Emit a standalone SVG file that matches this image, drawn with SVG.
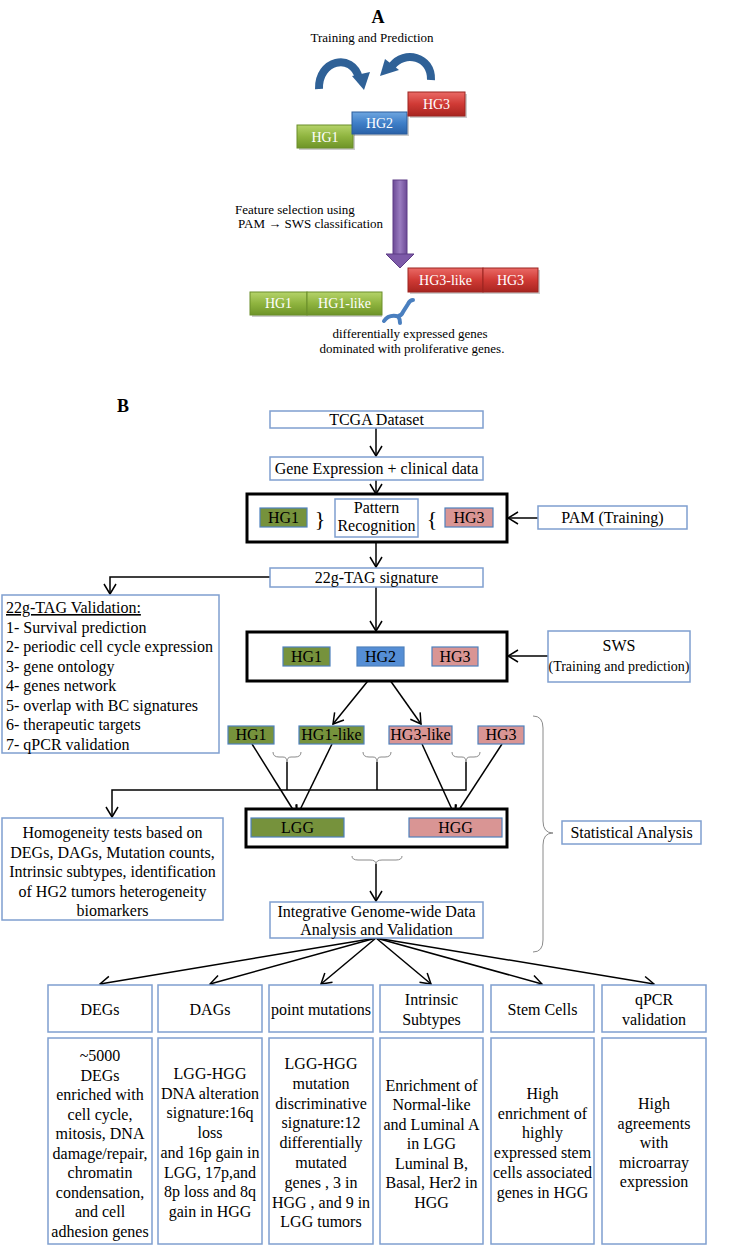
<svg xmlns="http://www.w3.org/2000/svg" width="735" height="1246" viewBox="0 0 735 1246">
<defs>
<style>
.t{font-family:"Liberation Serif","Times New Roman",serif;font-size:16px;fill:#000}
.ta{font-family:"Liberation Serif","Times New Roman",serif;font-size:13px;fill:#000}
.tw{font-family:"Liberation Serif","Times New Roman",serif;font-size:14px;fill:#fff;text-anchor:middle}
.c{text-anchor:middle}
.bx{fill:#fff;stroke:#7f9fcf;stroke-width:1.5}
.thick{fill:#fff;stroke:#000;stroke-width:3}
.g{fill:#76923c;stroke:#4f81bd;stroke-width:1.2}
.p{fill:#d99594;stroke:#4f81bd;stroke-width:1.2}
.b{fill:#558ed5;stroke:#4f81bd;stroke-width:1.2}
.ln{fill:none;stroke:#000;stroke-width:1.5}
.br{fill:none;stroke:#8a8a8a;stroke-width:1}
</style>
<marker id="ah" markerUnits="userSpaceOnUse" markerWidth="14" markerHeight="14" viewBox="-12 -7 14 14" refX="0" refY="0" orient="auto">
<path d="M-10,-6 L0,0 L-10,6" fill="none" stroke="#000" stroke-width="1.5"/>
</marker>
<linearGradient id="gg" x1="0" y1="0" x2="0" y2="1"><stop offset="0" stop-color="#b5d36a"/><stop offset="0.5" stop-color="#8fb43f"/><stop offset="1" stop-color="#6e9428"/></linearGradient>
<linearGradient id="gb" x1="0" y1="0" x2="0" y2="1"><stop offset="0" stop-color="#6fa6e0"/><stop offset="0.5" stop-color="#3f7fc8"/><stop offset="1" stop-color="#2a62a8"/></linearGradient>
<linearGradient id="gr" x1="0" y1="0" x2="0" y2="1"><stop offset="0" stop-color="#ea6a66"/><stop offset="0.5" stop-color="#d03a35"/><stop offset="1" stop-color="#a82520"/></linearGradient>
<linearGradient id="gp" x1="0" y1="0" x2="1" y2="0"><stop offset="0" stop-color="#6c4a96"/><stop offset="0.5" stop-color="#9a7cc0"/><stop offset="1" stop-color="#6c4a96"/></linearGradient>
</defs>

<!-- Part A -->
<g id="partA">
<text x="378" y="23" style="font-family:'Liberation Serif',serif;font-size:18px;font-weight:bold" text-anchor="middle">A</text>
<text class="ta c" x="372" y="42">Training and Prediction</text>
<g id="curvedArrows" fill="none" stroke="#2f6197" stroke-width="8">
<path d="M319,89 C318,60 352,52 359,78"/>
<path d="M431,80 C432,56 404,50 392,66"/>
</g>
<polygon points="352,76 370,72 364,90" fill="#2f6197"/>
<polygon points="385,59 399,70 380,76" fill="#2f6197"/>
<g id="A_HG1">
<rect x="299" y="127" width="56" height="23" fill="#000" opacity="0.2"/>
<rect x="297" y="125" width="56" height="23" fill="url(#gg)" stroke="#6b8e2a"/>
<text class="tw" x="325" y="142">HG1</text></g>
<g id="A_HG2">
<rect x="354" y="114" width="55" height="22" fill="#000" opacity="0.2"/>
<rect x="352" y="112" width="55" height="22" fill="url(#gb)" stroke="#2a5d9c"/>
<text class="tw" x="379.5" y="128">HG2</text></g>
<g id="A_HG3">
<rect x="410" y="94" width="57" height="24" fill="#000" opacity="0.2"/>
<rect x="408" y="92" width="57" height="24" fill="url(#gr)" stroke="#9c2420"/>
<text class="tw" x="436.5" y="109">HG3</text></g>
<g id="purpleArrow">
<rect x="393" y="180" width="14" height="75" fill="url(#gp)" stroke="#5e3d86" stroke-width="1"/>
<polygon points="386,254 414,254 400,268" fill="#7d5aa8" stroke="#5e3d86" stroke-width="1"/>
</g>
<text class="ta" x="235" y="214">Feature selection using</text>
<text class="ta" x="238" y="228">PAM → SWS classification</text>
<g id="A_HG1b">
<rect x="252" y="294" width="130" height="23" fill="#000" opacity="0.2"/>
<rect x="250" y="292" width="57" height="23" fill="url(#gg)" stroke="#6b8e2a"/>
<rect x="307" y="292" width="75" height="23" fill="url(#gg)" stroke="#6b8e2a"/>
<text class="tw" x="278.5" y="308">HG1</text>
<text class="tw" x="344.5" y="308">HG1-like</text></g>
<g id="A_HG3b">
<rect x="410" y="270" width="130" height="24" fill="#000" opacity="0.2"/>
<rect x="408" y="268" width="75" height="24" fill="url(#gr)" stroke="#9c2420"/>
<rect x="483" y="268" width="55" height="24" fill="url(#gr)" stroke="#9c2420"/>
<text class="tw" x="445.5" y="285">HG3-like</text>
<text class="tw" x="510.5" y="285">HG3</text></g>
<path d="M384,321 Q388,315 396,316 Q401,317 403,312 L408,304 Q410,300 413,300 M398,316 Q400,319 400,323" fill="none" stroke="#4a7fbf" stroke-width="4" stroke-linecap="round"/>
<text class="ta c" x="410" y="338">differentially expressed genes</text>
<text class="ta c" x="412" y="353">dominated with proliferative genes.</text>
</g>

<!-- Part B -->
<text x="117" y="412" style="font-family:'Liberation Serif',serif;font-size:18px;font-weight:bold">B</text>

<g id="connectors">
<line class="ln" x1="376" y1="428" x2="376" y2="456" marker-end="url(#ah)"/>
<line class="ln" x1="376" y1="480" x2="376" y2="494" marker-end="url(#ah)"/>
<line class="ln" x1="376" y1="542" x2="376" y2="567" marker-end="url(#ah)"/>
<line class="ln" x1="538" y1="518" x2="508" y2="518" marker-end="url(#ah)"/>
<polyline class="ln" points="270,577 110,577 110,594" marker-end="url(#ah)"/>
<line class="ln" x1="376" y1="587" x2="376" y2="631" marker-end="url(#ah)"/>
<line class="ln" x1="548" y1="656" x2="508" y2="656" marker-end="url(#ah)"/>
<line class="ln" x1="380" y1="666" x2="333" y2="724" marker-end="url(#ah)"/>
<line class="ln" x1="380" y1="666" x2="421" y2="724" marker-end="url(#ah)"/>
<line class="ln" x1="252" y1="744" x2="297" y2="816" marker-end="url(#ah)"/>
<line class="ln" x1="332" y1="744" x2="297" y2="816" marker-end="url(#ah)"/>
<line class="ln" x1="422" y1="744" x2="455" y2="816" marker-end="url(#ah)"/>
<line class="ln" x1="502" y1="744" x2="455" y2="816" marker-end="url(#ah)"/>
<path class="br" d="M273,752 Q273,757 279,757 L283,757 Q287,757 287,762 Q287,757 291,757 L295,757 Q301,757 301,752"/>
<path class="br" d="M363,752 Q363,757 369,757 L373,757 Q377,757 377,762 Q377,757 381,757 L385,757 Q391,757 391,752"/>
<path class="br" d="M452,752 Q452,757 458,757 L462,757 Q466,757 466,762 Q466,757 470,757 L474,757 Q480,757 480,752"/>
<line class="ln" x1="287" y1="762" x2="287" y2="790"/>
<line class="ln" x1="377" y1="762" x2="377" y2="790"/>
<polyline class="ln" points="466,762 466,790 112,790 112,817" marker-end="url(#ah)"/>
<path class="br" d="M352,856 Q352,860 358,860 L370,860 Q376,860 376,864 Q376,860 382,860 L396,860 Q402,860 402,856"/>
<line class="ln" x1="376" y1="864" x2="376" y2="901" marker-end="url(#ah)"/>
<path class="br" d="M533,716 Q543,716 543,728 L543,821 Q543,833 553,833 Q543,833 543,845 L543,940 Q543,952 533,952"/>
<line class="ln" x1="376" y1="938" x2="100" y2="984" marker-end="url(#ah)"/>
<line class="ln" x1="376" y1="938" x2="210" y2="984" marker-end="url(#ah)"/>
<line class="ln" x1="376" y1="938" x2="321" y2="984" marker-end="url(#ah)"/>
<line class="ln" x1="376" y1="938" x2="431" y2="984" marker-end="url(#ah)"/>
<line class="ln" x1="376" y1="938" x2="542" y2="984" marker-end="url(#ah)"/>
<line class="ln" x1="376" y1="938" x2="654" y2="984" marker-end="url(#ah)"/>
</g>

<g id="tcga"><rect class="bx" x="270" y="411" width="213" height="17"/><text class="t c" x="376.5" y="425">TCGA Dataset</text></g>
<g id="geneExpr"><rect class="bx" x="270" y="457" width="213" height="23"/><text class="t c" x="376.5" y="474">Gene Expression + clinical data</text></g>

<g id="box1">
<rect class="thick" x="247" y="494" width="260" height="48"/>
<rect class="g" x="260" y="508" width="47" height="19"/><text class="t c" x="283.5" y="523">HG1</text>
<text class="c" x="320" y="526" style="font-family:'Liberation Serif',serif;font-size:22px">}</text>
<rect class="bx" x="335" y="499" width="83" height="38"/>
<text class="t c" x="376.5" y="513">Pattern</text><text class="t c" x="376.5" y="531">Recognition</text>
<text class="c" x="432" y="526" style="font-family:'Liberation Serif',serif;font-size:22px">{</text>
<rect class="p" x="445" y="508" width="48" height="19"/><text class="t c" x="469" y="523">HG3</text>
</g>
<g id="pam"><rect class="bx" x="538" y="506" width="149" height="23"/><text class="t c" x="612.5" y="523">PAM (Training)</text></g>
<g id="sig"><rect class="bx" x="270" y="568" width="213" height="19"/><text class="t c" x="376.5" y="583">22g-TAG signature</text></g>

<g id="validation">
<rect class="bx" x="2" y="595" width="217" height="158"/>
<text class="t" x="6" y="613" text-decoration="underline">22g-TAG Validation:</text>
<text class="t" x="6" y="632.5">1- Survival prediction</text>
<text class="t" x="6" y="652">2- periodic cell cycle expression</text>
<text class="t" x="6" y="671.5">3- gene ontology</text>
<text class="t" x="6" y="691">4- genes network</text>
<text class="t" x="6" y="710.5">5- overlap with BC signatures</text>
<text class="t" x="6" y="730">6- therapeutic targets</text>
<text class="t" x="6" y="749.5">7- qPCR validation</text>
</g>

<g id="box2">
<rect class="thick" x="247" y="632" width="260" height="49"/>
<rect class="g" x="283" y="647" width="47" height="19"/><text class="t c" x="306.5" y="662">HG1</text>
<rect class="b" x="357" y="647" width="47" height="19"/><text class="t c" x="380.5" y="662">HG2</text>
<rect class="p" x="432" y="647" width="46" height="19"/><text class="t c" x="455" y="662">HG3</text>
</g>
<g id="sws"><rect class="bx" x="548" y="631" width="142" height="51"/><text class="t c" x="619" y="651">SWS</text><text class="t c" x="619" y="671" style="font-size:14px">(Training and prediction)</text></g>

<g id="row4">
<rect class="g" x="228" y="726" width="46" height="18"/><text class="t c" x="251" y="740">HG1</text>
<rect class="g" x="299" y="726" width="65" height="18"/><text class="t c" x="331.5" y="740">HG1-like</text>
<rect class="p" x="389" y="726" width="63" height="18"/><text class="t c" x="420.5" y="740">HG3-like</text>
<rect class="p" x="478" y="726" width="46" height="18"/><text class="t c" x="501" y="740">HG3</text>
</g>

<g id="box3">
<rect class="thick" x="246" y="809" width="261" height="38"/>
<rect class="g" x="251" y="818" width="93" height="19"/><text class="t c" x="297.5" y="833">LGG</text>
<rect class="p" x="409" y="818" width="93" height="19"/><text class="t c" x="455.5" y="833">HGG</text>
</g>

<g id="homog">
<rect class="bx" x="2" y="818" width="221" height="102"/>
<text class="t c" x="112.5" y="838">Homogeneity tests based on</text>
<text class="t c" x="112.5" y="857.5">DEGs, DAGs, Mutation counts,</text>
<text class="t c" x="112.5" y="877">Intrinsic subtypes, identification</text>
<text class="t c" x="112.5" y="896.5">of HG2 tumors heterogeneity</text>
<text class="t c" x="112.5" y="916">biomarkers</text>
</g>
<g id="stat"><rect class="bx" x="562" y="821" width="139" height="23"/><text class="t c" x="631.5" y="838">Statistical Analysis</text></g>
<g id="integr"><rect class="bx" x="270" y="902" width="213" height="36"/><text class="t c" x="376.5" y="917">Integrative Genome-wide Data</text><text class="t c" x="376.5" y="935">Analysis and Validation</text></g>

<g id="col1">
<rect class="bx" x="48" y="985" width="104" height="47"/><text class="t c" x="100" y="1015">DEGs</text>
<rect class="bx" x="48" y="1038" width="104" height="206"/>
<text class="t c" x="100" y="1061">~5000<tspan x="100" dy="19.5">DEGs</tspan><tspan x="100" dy="19.5">enriched with</tspan><tspan x="100" dy="19.5">cell cycle,</tspan><tspan x="100" dy="19.5">mitosis, DNA</tspan><tspan x="100" dy="19.5">damage/repair,</tspan><tspan x="100" dy="19.5">chromatin</tspan><tspan x="100" dy="19.5">condensation,</tspan><tspan x="100" dy="19.5">and cell</tspan><tspan x="100" dy="19.5">adhesion genes</tspan></text>
</g>
<g id="col2">
<rect class="bx" x="158" y="985" width="104" height="47"/><text class="t c" x="210" y="1015">DAGs</text>
<rect class="bx" x="158" y="1038" width="104" height="206"/>
<text class="t c" x="210" y="1079">LGG-HGG<tspan x="210" dy="19.7">DNA alteration</tspan><tspan x="210" dy="19.7">signature:16q</tspan><tspan x="210" dy="19.7">loss</tspan><tspan x="210" dy="19.7">and 16p gain in</tspan><tspan x="210" dy="19.7">LGG, 17p,and</tspan><tspan x="210" dy="19.7">8p loss and 8q</tspan><tspan x="210" dy="19.7">gain in HGG</tspan></text>
</g>
<g id="col3">
<rect class="bx" x="269" y="985" width="104" height="47"/><text class="t c" x="321" y="1015">point mutations</text>
<rect class="bx" x="269" y="1038" width="104" height="206"/>
<text class="t c" x="321" y="1069">LGG-HGG<tspan x="321" dy="19.8">mutation</tspan><tspan x="321" dy="19.8">discriminative</tspan><tspan x="321" dy="19.8">signature:12</tspan><tspan x="321" dy="19.8">differentially</tspan><tspan x="321" dy="19.8">mutated</tspan><tspan x="321" dy="19.8">genes , 3 in</tspan><tspan x="321" dy="19.8">HGG , and 9 in</tspan><tspan x="321" dy="19.8">LGG tumors</tspan></text>
</g>
<g id="col4">
<rect class="bx" x="380" y="985" width="103" height="47"/><text class="t c" x="431.5" y="1005">Intrinsic<tspan x="431.5" dy="20">Subtypes</tspan></text>
<rect class="bx" x="380" y="1038" width="103" height="206"/>
<text class="t c" x="431.5" y="1090.5">Enrichment of<tspan x="431.5" dy="19.5">Normal-like</tspan><tspan x="431.5" dy="19.5">and Luminal A</tspan><tspan x="431.5" dy="19.5">in LGG</tspan><tspan x="431.5" dy="19.5">Luminal B,</tspan><tspan x="431.5" dy="19.5">Basal, Her2 in</tspan><tspan x="431.5" dy="19.5">HGG</tspan></text>
</g>
<g id="col5">
<rect class="bx" x="491" y="985" width="103" height="47"/><text class="t c" x="542.5" y="1015">Stem Cells</text>
<rect class="bx" x="491" y="1038" width="103" height="206"/>
<text class="t c" x="542.5" y="1099">High<tspan x="542.5" dy="19.7">enrichment of</tspan><tspan x="542.5" dy="19.7">highly</tspan><tspan x="542.5" dy="19.7">expressed stem</tspan><tspan x="542.5" dy="19.7">cells associated</tspan><tspan x="542.5" dy="19.7">genes in HGG</tspan></text>
</g>
<g id="col6">
<rect class="bx" x="602" y="985" width="104" height="47"/><text class="t c" x="654" y="1005">qPCR<tspan x="654" dy="20">validation</tspan></text>
<rect class="bx" x="602" y="1038" width="104" height="206"/>
<text class="t c" x="654" y="1109">High<tspan x="654" dy="19.6">agreements</tspan><tspan x="654" dy="19.6">with</tspan><tspan x="654" dy="19.6">microarray</tspan><tspan x="654" dy="19.6">expression</tspan></text>
</g>
</svg>
